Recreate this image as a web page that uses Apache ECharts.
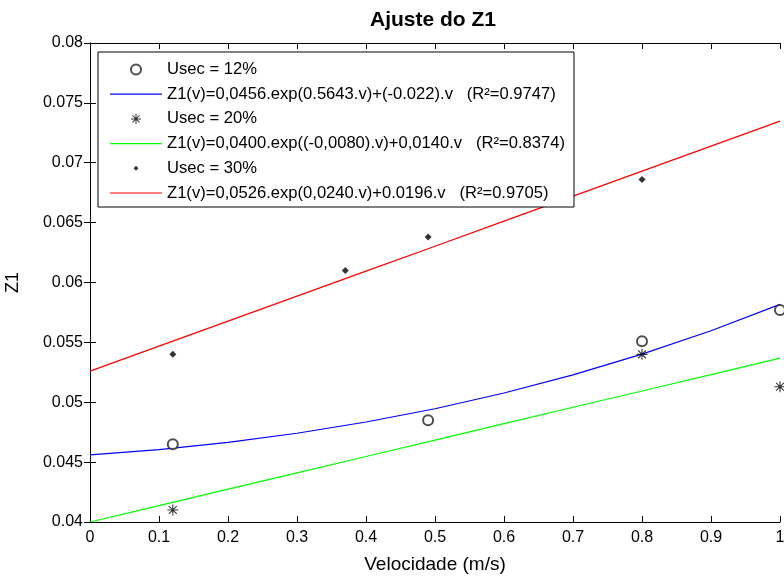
<!DOCTYPE html>
<html>
<head>
<meta charset="utf-8">
<script src="https://cdn.jsdelivr.net/npm/echarts@6/dist/echarts.min.js"></script>
<style>html,body{margin:0;padding:0;background:#fff;}#c{width:784px;height:579px;}</style>
</head>
<body>
<div id="c"></div>
<script>
// ---- data ----
const xTicks = [0, 0.1, 0.2, 0.3, 0.4, 0.5, 0.6, 0.7, 0.8, 0.9, 1];
const yTicks = [0.04, 0.045, 0.05, 0.055, 0.06, 0.065, 0.07, 0.075, 0.08];

const usec12X = [0.12, 0.49, 0.80, 1.00];
const usec12Y = [0.0465, 0.0485, 0.0551, 0.0577];
const usec20X = [0.12, 0.80, 1.00];
const usec20Y = [0.0410, 0.0540, 0.0513];
const usec30X = [0.12, 0.37, 0.49, 0.80];
const usec30Y = [0.0540, 0.0610, 0.0638, 0.0686];

const curveV = [0, 0.1, 0.2, 0.3, 0.4, 0.5, 0.6, 0.7, 0.8, 0.9, 1.0];
const fit12 = [0.0456, 0.04605, 0.04665, 0.04741, 0.04835, 0.04946, 0.05077, 0.05229, 0.05402, 0.05597, 0.05817];
const fit20 = [0.0400, 0.04137, 0.04274, 0.04410, 0.04547, 0.04684, 0.04821, 0.04958, 0.05094, 0.05231, 0.05368];
const fit30 = [0.0526, 0.05469, 0.05677, 0.05886, 0.06095, 0.06303, 0.06512, 0.06721, 0.06930, 0.07139, 0.07348];

const names = [
  'Usec = 12%',
  'Z1(v)=0,0456.exp(0.5643.v)+(-0.022).v   (R²=0.9747)',
  'Usec = 20%',
  'Z1(v)=0,0400.exp((-0,0080).v)+0,0140.v   (R²=0.8374)',
  'Usec = 30%',
  'Z1(v)=0,0526.exp(0,0240.v)+0.0196.v   (R²=0.9705)'
];
const titleText = 'Ajuste do Z1';
const xName = 'Velocidade (m/s)';
const yName = 'Z1';

// ---- chart ----
const zip = (xs, ys) => xs.map((x, i) => [x, ys[i]]);
const FONT = '"Liberation Sans", Arial, sans-serif';
const star = 'path://M9 0L11 0L11 20L9 20Z M0 9L20 9L20 11L0 11Z M2.2 3.6L3.6 2.2L17.8 16.4L16.4 17.8Z M16.4 2.2L17.8 3.6L3.6 17.8L2.2 16.4Z';
const dotLegend = 'path://M0 0L0.01 0L0 0.01Z M20 20L19.99 20L20 19.99Z M10 5L15 10L10 15L5 10Z';
const lineIcon = 'path://M0 0L52 0L52 1.2L0 1.2Z';

const chart = echarts.init(document.getElementById('c'), null, {renderer: 'canvas'});
const axisLine = {show: true, lineStyle: {color: '#000', width: 1}};
const tickIn = {show: true, inside: true, length: 6, lineStyle: {color: '#000', width: 1}};

chart.setOption({
  animation: false,
  backgroundColor: '#fff',
  title: {
    text: titleText, left: 428, top: 5, textAlign: 'center',
    textStyle: {fontFamily: FONT, fontSize: 21, fontWeight: 'bold', color: '#000'}
  },
  grid: {left: 90, right: 4, top: 43, bottom: 57, containLabel: false, outerBoundsMode: 'none'},
  legend: {
    orient: 'vertical', left: 98, top: 52,
    backgroundColor: '#fff', borderColor: '#000', borderWidth: 1, borderRadius: 0,
    padding: [9, 9, 5.5, 12],
    itemWidth: 52, itemHeight: 10, itemGap: 7.7,
    textStyle: {fontFamily: FONT, fontSize: 16.6, color: '#000', lineHeight: 16},
    data: [
      {name: names[0]},
      {name: names[1], icon: lineIcon},
      {name: names[2]},
      {name: names[3], icon: lineIcon},
      {name: names[4], icon: dotLegend},
      {name: names[5], icon: lineIcon}
    ]
  },
  xAxis: [{
    type: 'value', min: 0, max: 1, interval: 0.1,
    name: xName, nameLocation: 'middle', nameGap: 33,
    nameTextStyle: {fontFamily: FONT, fontSize: 19, color: '#000'},
    axisLine, axisTick: tickIn, splitLine: {show: false},
    axisLabel: {fontFamily: FONT, fontSize: 16, color: '#000', margin: 8,
      formatter: v => String(+v.toFixed(1))}
  }, {
    type: 'value', min: 0, max: 1, interval: 0.1, position: 'top',
    axisLine, axisTick: tickIn, axisLabel: {show: false}, splitLine: {show: false}
  }],
  yAxis: [{
    type: 'value', min: 0.04, max: 0.08, interval: 0.005,
    name: yName, nameLocation: 'middle', nameGap: 68, nameRotate: 90,
    nameTextStyle: {fontFamily: FONT, fontSize: 18, color: '#000'},
    axisLine, axisTick: tickIn, splitLine: {show: false},
    axisLabel: {fontFamily: FONT, fontSize: 16, color: '#000', margin: 7,
      formatter: v => String(+v.toFixed(3))}
  }, {
    type: 'value', min: 0.04, max: 0.08, interval: 0.005, position: 'right',
    axisLine, axisTick: tickIn, axisLabel: {show: false}, splitLine: {show: false}
  }],
  series: [
    {name: names[0], type: 'scatter', data: zip(usec12X, usec12Y), symbol: 'emptyCircle', symbolSize: 10,
      itemStyle: {color: '#222', borderColor: '#222', borderWidth: 1.2}, z: 5},
    {name: names[1], type: 'line', data: zip(curveV, fit12), symbol: 'none', showSymbol: false,
      lineStyle: {color: '#0000ff', width: 1.2}, itemStyle: {color: '#0000ff'}},
    {name: names[2], type: 'scatter', data: zip(usec20X, usec20Y), symbol: star, symbolSize: 11,
      itemStyle: {color: '#000'}, z: 5},
    {name: names[3], type: 'line', data: zip(curveV, fit20), symbol: 'none', showSymbol: false,
      lineStyle: {color: '#00ff00', width: 1.2}, itemStyle: {color: '#00ff00'}},
    {name: names[4], type: 'scatter', data: zip(usec30X, usec30Y), symbol: 'diamond', symbolSize: 7,
      itemStyle: {color: '#000'}, z: 5},
    {name: names[5], type: 'line', data: zip(curveV, fit30), symbol: 'none', showSymbol: false,
      lineStyle: {color: '#ff0000', width: 1.2}, itemStyle: {color: '#ff0000'}}
  ]
});
</script>
</body>
</html>
